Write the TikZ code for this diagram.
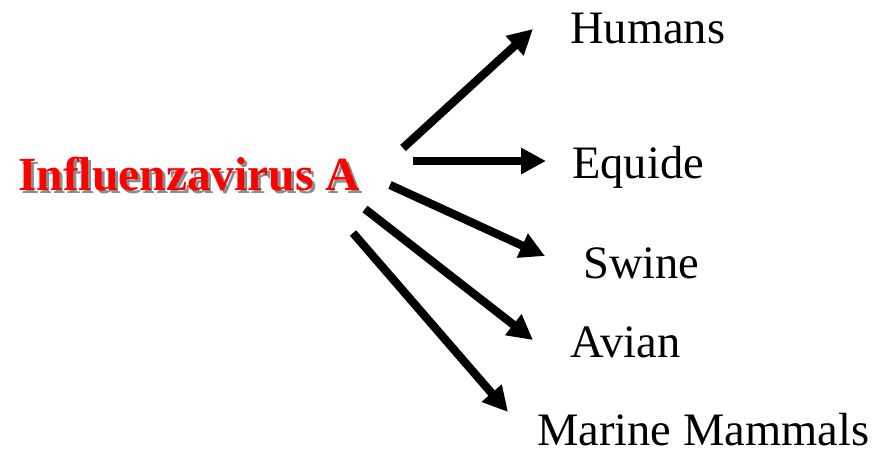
\documentclass[tikz,border=0pt]{standalone}
\usepackage{fontspec}
\setmainfont{Liberation Serif}
\usetikzlibrary{arrows.meta}
\definecolor{titlered}{RGB}{255,0,0}
\definecolor{shade}{RGB}{140,140,140}
\newcommand{\shadowtext}[1]{%
  \makebox[0pt][l]{\kern3pt\raisebox{-3pt}{\textcolor{shade}{#1}}}%
  \textcolor{titlered}{#1}}
\tikzset{
  host/.style={anchor=base west, inner sep=0pt, font=\fontsize{46.5}{50}\selectfont},
  virus/.style={anchor=base west, inner sep=0pt, font=\fontsize{47.5}{52}\selectfont\bfseries},
  spread/.style={line width=8.3pt, -{Triangle[length=25pt,width=25pt]}}
}
\begin{document}
\begin{tikzpicture}[x=1pt,y=-1pt]
  \useasboundingbox (0,0) rectangle (884,455);
  % source label with drop shadow
  \node[virus] (flu) at (18,190) {\shadowtext{Influenzavirus A}};
  % hosts
  \node[host] (humans) at (570,43) {Humans};
  \node[host] (equide) at (572,178) {Equide};
  \node[host] (swine)  at (583,278) {Swine};
  \node[host] (avian)  at (570,357) {Avian};
  \node[host] (marine) at (537,445) {Marine Mammals};
  % arrow end points
  \coordinate (s1) at (403,148); \coordinate (t1) at (533,29);
  \coordinate (s2) at (413,161); \coordinate (t2) at (546,161);
  \coordinate (s3) at (390,185); \coordinate (t3) at (545,256);
  \coordinate (s4) at (365,209); \coordinate (t4) at (533,340);
  \coordinate (s5) at (353,233); \coordinate (t5) at (508,412);
  \draw[spread] (s1) -- (t1);
  \draw[spread] (s2) -- (t2);
  \draw[spread] (s3) -- (t3);
  \draw[spread] (s4) -- (t4);
  \draw[spread] (s5) -- (t5);
\end{tikzpicture}
\end{document}
